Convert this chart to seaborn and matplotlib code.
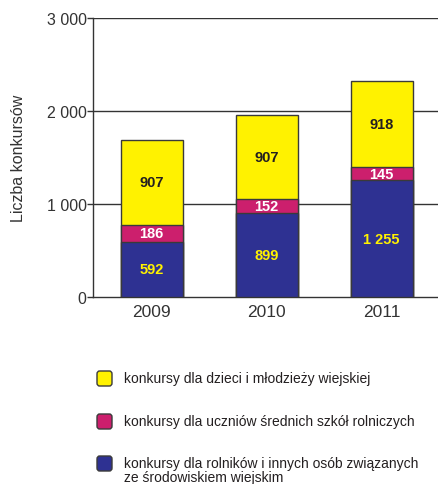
import matplotlib
matplotlib.use("Agg")
import matplotlib.pyplot as plt
from matplotlib.patches import FancyBboxPatch
import numpy as np
import pandas as pd
import seaborn as sns

years = ["2009", "2010", "2011"]
rolnicy = [592, 899, 1255]
uczniowie = [186, 152, 145]
dzieci = [907, 907, 918]

labels = ["konkursy dla dzieci i młodzieży wiejskiej",
          "konkursy dla uczniów średnich szkół rolniczych",
          "konkursy dla rolników i innych osób związanych\nze środowiskiem wiejskim"]
yticks = [0, 1000, 2000, 3000]
ytick_labels = ["0", "1 000", "2 000", "3 000"]

W, H = 438, 485


def fmt(v):
    return "{:,}".format(v).replace(",", " ")


def main():
    sns.set_style("white")
    plt.rcParams['font.family'] = ["Liberation Sans", "DejaVu Sans"]
    almost_black = '#231f20'
    plt.rcParams['text.color'] = almost_black
    plt.rcParams['axes.edgecolor'] = '#333333'

    yellow = "#fff200"
    magenta = "#cc1f6d"
    blue = "#2e3192"

    df = pd.DataFrame({"rok": years, "rolnicy": rolnicy,
                       "uczniowie": uczniowie, "dzieci": dzieci})
    df["lvl2"] = df.rolnicy + df.uczniowie
    df["lvl3"] = df.lvl2 + df.dzieci

    fig = plt.figure(figsize=(W / 100, H / 100), dpi=100)
    ax = fig.add_axes([93 / W, 1 - 298 / H, 1 - 93 / W, 279 / H])

    edge = dict(edgecolor="#3a3a3a", linewidth=1.0, zorder=3)
    for col, c in [("lvl3", yellow), ("lvl2", magenta), ("rolnicy", blue)]:
        sns.barplot(x="rok", y=col, data=df, color=c, saturation=1,
                    width=0.54, ax=ax, **edge)

    ax.set_xlim(-0.51, 2.49)
    ax.set_ylim(0, 3000)
    ax.set_yticks(yticks)
    ax.set_yticklabels(ytick_labels)
    for y in yticks[1:]:
        ax.axhline(y, color="#333333", lw=1.0, zorder=1)
    sns.despine(ax=ax, top=True, right=True)
    ax.spines["left"].set_linewidth(1.0)
    ax.spines["bottom"].set_linewidth(1.0)
    ax.tick_params(axis="y", length=4, width=1.0, color="#333333",
                   labelsize=11.5, labelcolor="#333333", pad=0.5,
                   left=True)
    ax.tick_params(axis="x", length=0, labelsize=12.5, labelcolor="#333333",
                   pad=5)
    ax.set_xlabel("")
    ax.set_ylabel("Liczba konkursów", fontsize=11.5, color="#333333",
                  labelpad=15)

    # wartosci w segmentach
    for i in range(len(years)):
        b = rolnicy[i]
        m = uczniowie[i]
        d = dzieci[i]
        kw = dict(ha="center", va="center", fontsize=10.5, fontweight="bold",
                  zorder=5)
        ax.text(i, b / 2, fmt(b), color=yellow, **kw)
        ax.text(i, b + m / 2, fmt(m), color="white", **kw)
        ax.text(i, b + m + d / 2, fmt(d), color=almost_black, **kw)

    # legenda (recznie, zeby kwadrat stal przy pierwszej linii)
    sq_top = [372, 415, 457]
    for c, lab, top in zip([yellow, magenta, blue], labels, sq_top):
        box = FancyBboxPatch((97 / W, 1 - (top + 15) / H), 15 / W, 15 / H,
                             boxstyle="round,pad=0,rounding_size=0.006",
                             transform=fig.transFigure, facecolor=c,
                             edgecolor="#3a3a3a", linewidth=1.0)
        fig.add_artist(box)
        fig.text(124 / W, 1 - (top + 0.5) / H, lab, ha="left", va="top",
                 fontsize=10, color=almost_black, linespacing=1.0)

    plt.savefig("out.png", dpi=100)


if __name__ == "__main__":
    main()
